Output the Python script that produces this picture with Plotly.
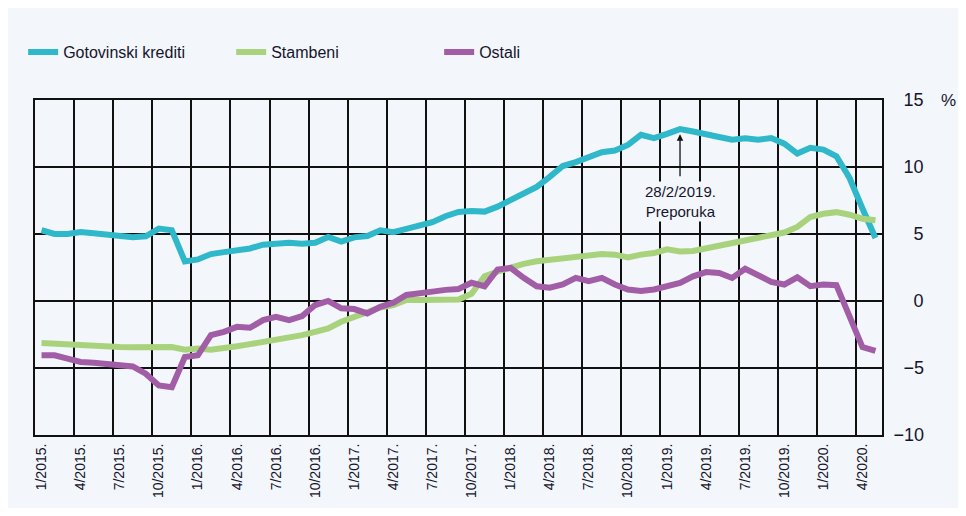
import plotly.graph_objects as go

# Monthly data, 1/2015 .. 5/2020 (index 0..64)
months = list(range(65))

gotovinski = [5.28, 5.0, 5.0, 5.15, 5.05, 4.95, 4.78, 4.75, 4.83, 5.4, 5.28, 2.95, 3.1, 3.5, 3.65, 3.75,
              3.92, 4.2, 4.3, 4.35, 4.28, 4.35, 4.78, 4.43, 4.75, 4.85, 5.28, 5.13, 5.38, 5.58, 5.88, 6.33,
              6.65, 6.72, 6.67, 7.04, 7.53, 7.95, 8.52, 9.26, 10.07, 10.37, 10.74, 11.1, 11.23, 11.65, 12.4, 12.15,
              12.47, 12.83, 12.65, 12.4, 12.24, 12.04, 12.14, 12.04, 12.16, 11.74, 11.0, 11.43, 11.3, 10.8, 9.2, 6.9,
              4.7]

stambeni = [-3.13, -3.18, -3.3, -3.38, -3.43, -3.43, -3.43, -3.45, -3.45, -3.43, -3.43, -3.63, -3.55, -3.63, -3.55, -3.38,
            -3.22, -3.05, -2.93, -2.8, -2.55, -2.3, -2.05, -1.55, -1.18, -0.8, -0.48, -0.3, 0.08, 0.08, 0.13, 0.18,
            0.12, 0.54, 1.85, 2.2, 2.5, 2.77, 2.96, 3.09, 3.2, 3.33, 3.4, 3.5, 3.46, 3.26, 3.46, 3.58,
            3.85, 3.69, 3.73, 3.93, 4.13, 4.3, 4.55, 4.67, 4.86, 5.11, 5.53, 6.27, 6.51, 6.63, 6.44, 6.14,
            6.02]

ostali = [-4.05, -4.05, -4.3, -4.55, -4.6, -4.68, -4.8, -4.88, -5.43, -6.3, -6.43, -4.18, -4.05, -2.55, -2.3, -1.93,
          -2.0, -1.43, -1.18, -1.43, -1.13, -0.3, 0.0, -0.55, -0.6, -0.93, -0.43, -0.13, 0.45, 0.63, 0.7, 0.83,
          0.9, 1.36, 1.1, 2.35, 2.47, 1.73, 1.1, 0.99, 1.23, 1.73, 1.48, 1.73, 1.23, 0.86, 0.74, 0.86,
          1.1, 1.35, 1.84, 2.16, 2.09, 1.72, 2.41, 1.97, 1.43, 1.23, 1.77, 1.11, 1.23, 1.18, -1.23, -3.44,
          -3.73]

tick_pos = list(range(0, 64, 3))
tick_labels = [f"{m}/{y}." for y in range(2015, 2021) for m in (1, 4, 7, 10)][:22]

y_ticks = [-10, -5, 0, 5, 10, 15]
y_labels = ["\u221210", "\u2007\u22125", "\u2007\u20070", "\u2007\u20075", "\u200710", "\u200715"]

series_names = ["Gotovinski krediti", "Stambeni", "Ostali"]
series_colors = ["#2fb8ca", "#a8d37c", "#a15ea6"]

FONT = "Liberation Sans, Arial, sans-serif"
BG = "#f3f6fb"
INK = "#15152a"

fig = go.Figure()
for name, vals, col in zip(series_names, [gotovinski, stambeni, ostali], series_colors):
    fig.add_trace(go.Scatter(x=months, y=vals, mode="lines", name=name,
                             line=dict(color=col, width=6)))

fig.update_layout(
    width=958, height=500,
    margin=dict(l=27, r=84, t=92, b=73, autoexpand=False),
    paper_bgcolor=BG,
    plot_bgcolor=BG,
    font=dict(family=FONT, color=INK, size=15),
    showlegend=True,
    legend=dict(orientation="h", x=-0.014, xanchor="left", y=1.143, yanchor="middle",
                font=dict(size=16, family=FONT, color=INK),
                itemwidth=30, entrywidth=163, bgcolor="rgba(0,0,0,0)"),
    xaxis=dict(range=[-0.5, 64.5], tickmode="array", tickvals=tick_pos, ticktext=tick_labels,
               tickangle=-90, showgrid=False, zeroline=False, ticks="", ticklabelstandoff=1,
               tickfont=dict(size=14, family=FONT, color=INK),
               showline=True, linecolor="#111", linewidth=2, mirror=True,
               minor=dict(tickmode="linear", tick0=2.5, dtick=3, showgrid=True,
                          gridcolor="#111", gridwidth=2, ticks="")),
    yaxis=dict(range=[-10, 15], tickmode="array", tickvals=y_ticks, ticktext=y_labels,
               side="right", showgrid=True, gridcolor="#111", gridwidth=2,
               zeroline=False, ticks="", ticklabelstandoff=6,
               tickfont=dict(size=18, family=FONT, color=INK),
               showline=True, linecolor="#111", linewidth=2, mirror=True),
)

fig.add_annotation(x=49, y=12.45, ax=49, ay=9.2, xref="x", yref="y", axref="x", ayref="y",
                   text="", showarrow=True, arrowhead=2, arrowsize=1, arrowwidth=1.3, arrowcolor="#111")
fig.add_annotation(x=49, y=7.45, xref="x", yref="y", text="28/2/2019.<br>Preporuka", showarrow=False,
                   font=dict(size=15, family=FONT, color=INK), bgcolor=BG)
fig.add_annotation(x=1.079, y=1.0, xref="paper", yref="paper", text="%", showarrow=False,
                   font=dict(size=17, family=FONT, color=INK), xanchor="center", yanchor="middle")

fig.write_html("out.html")
